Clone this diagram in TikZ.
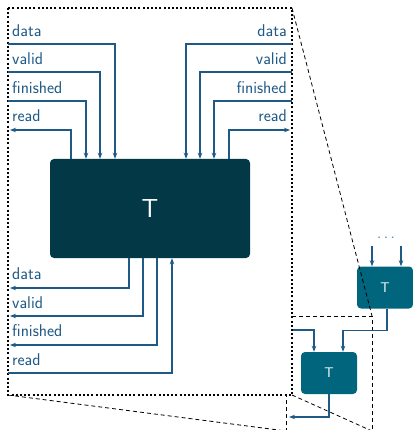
\documentclass[tikz,border=0pt]{standalone}
\usepackage{tikz}
\usepackage[dvipsnames]{xcolor}
\usetikzlibrary{arrows.meta}
\definecolor{sigblue}{HTML}{1F5A87}
\definecolor{boxdark}{HTML}{033847}
\definecolor{boxteal}{HTML}{00657D}

\begin{document}
\begin{tikzpicture}[x=1pt,y=-1pt,
    sig/.style={sigblue,line width=1.5pt,-{Stealth[length=6pt,width=4.5pt]}},
    lbl/.style={text=sigblue,inner sep=0pt,font=\fontsize{17}{20}\selectfont\sffamily},
    bigbox/.style={fill=boxdark,rounded corners=4pt,minimum width=200pt,minimum height=99pt,text=white,font=\fontsize{26}{30}\selectfont\sffamily},
    smallbox/.style={fill=boxteal,rounded corners=4pt,minimum width=56pt,minimum height=42pt,text=white,font=\fontsize{14}{16}\selectfont\sffamily},
    zoomline/.style={black,line width=0.8pt,dash pattern=on 4pt off 3pt},
    zoombox/.style={black,fill=white,line width=2pt,dash pattern=on 2pt off 2.2pt}]
            \useasboundingbox (0,0) rectangle (412,430);
            % zoomed region
            \coordinate (snw) at (286,316);
            \coordinate (sse) at (372,431);
            \draw[zoomline] (snw) rectangle (sse);
            \node[smallbox] (tup) at (385,287.5) {T};
            \node[smallbox] (tlow) at (329,373) {T};
            \node[text=sigblue!70,inner sep=0pt,anchor=base,font=\fontsize{18}{20}\selectfont\sffamily] (udots) at (386,238.5) {.\hspace{2pt}.\hspace{2pt}.};
            \coordinate (uina) at (372,246);
            \coordinate (uinb) at (401,246);
            \draw[sig] (uina) -- (uina |- tup.north);
            \draw[sig] (uinb) -- (uinb |- tup.north);
            \draw[sig] ([xshift=2pt]tup.south) -- ++(0,22) -| ([xshift=14pt]tlow.north);
            \coordinate (lwin) at (292,330);
            \draw[sig] (lwin) -| ([xshift=-15pt]tlow.north);
            \coordinate (lwout) at (289,417);
            \draw[sig] (tlow.south) |- (lwout);
            % magnified view
            \coordinate (bnw) at (8,8);
            \coordinate (bse) at (292,395);
            \draw[zoomline] (bnw -| bse) -- (sse |- snw);
            \draw[zoomline] (bnw |- bse) -- (snw |- sse);
            \draw[zoomline] (bse) -- (sse);
            \draw[zoombox] (bnw) rectangle (bse);
            \node[bigbox] (tbig) at (150,208.5) {T};
            % top left
            \node[lbl,anchor=base west] (ltdata) at (12,37) {data};
            \node[lbl,anchor=base west] (ltvalid) at (12,65) {valid};
            \node[lbl,anchor=base west] (ltfin) at (12,94) {finished};
            \node[lbl,anchor=base west] (ltread) at (12,122) {read};
            \coordinate (ltdin) at (8,44);
            \coordinate (ltvin) at (8,72);
            \coordinate (ltfin) at (8,101);
            \coordinate (ltrout) at (10,130);
            \draw[sig] (ltdin) -| ([xshift=-35pt]tbig.north);
            \draw[sig] (ltvin) -| ([xshift=-50pt]tbig.north);
            \draw[sig] (ltfin) -| ([xshift=-64pt]tbig.north);
            \draw[sig] ([xshift=-79pt]tbig.north) |- (ltrout);
            % top right
            \node[lbl,anchor=base east] (rtdata) at (287,37) {data};
            \node[lbl,anchor=base east] (rtvalid) at (287,65) {valid};
            \node[lbl,anchor=base east] (rtfin) at (287,94) {finished};
            \node[lbl,anchor=base east] (rtread) at (287,122) {read};
            \coordinate (rtdin) at (292,44);
            \coordinate (rtvin) at (292,72);
            \coordinate (rtfin) at (292,101);
            \coordinate (rtrout) at (290,130);
            \draw[sig] (rtdin) -| ([xshift=36pt]tbig.north);
            \draw[sig] (rtvin) -| ([xshift=50pt]tbig.north);
            \draw[sig] (rtfin) -| ([xshift=64pt]tbig.north);
            \draw[sig] ([xshift=79pt]tbig.north) |- (rtrout);
            % bottom
            \node[lbl,anchor=base west] (lbdata) at (12,279) {data};
            \node[lbl,anchor=base west] (lbvalid) at (12,308) {valid};
            \node[lbl,anchor=base west] (lbfin) at (12,336) {finished};
            \node[lbl,anchor=base west] (lbread) at (12,365) {read};
            \coordinate (lbdout) at (10,288);
            \coordinate (lbvout) at (10,316);
            \coordinate (lbfout) at (10,345);
            \coordinate (lbrin) at (8,373);
            \draw[sig] ([xshift=-21pt]tbig.south) |- (lbdout);
            \draw[sig] ([xshift=-7pt]tbig.south) |- (lbvout);
            \draw[sig] ([xshift=7pt]tbig.south) |- (lbfout);
            \draw[sig] (lbrin) -| ([xshift=22pt]tbig.south);
        \end{tikzpicture}
\end{document}
